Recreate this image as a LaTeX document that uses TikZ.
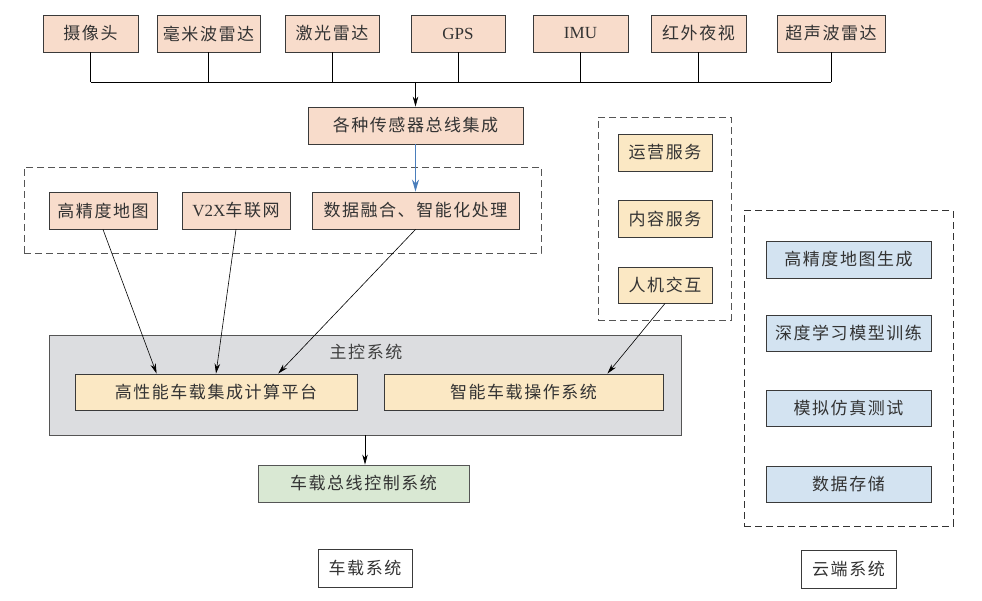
\documentclass[tikz,border=0pt]{standalone}
\usepackage{fontspec}
\setmainfont{Liberation Serif}
\newfontfamily\cjk[LetterSpace=9]{Noto Sans CJK SC}
\usepackage{xcolor}
\usepackage{tikz}
\usetikzlibrary{calc,positioning,arrows.meta}
\definecolor{sensBg}{HTML}{F8DCCB}
\definecolor{svcBg}{HTML}{FBE8C4}
\definecolor{mcuBg}{HTML}{DCDDE0}
\definecolor{busBg}{HTML}{D9E8D3}
\definecolor{cloudBg}{HTML}{D3E3F1}
\definecolor{flowBlue}{HTML}{4A7EBB}
\definecolor{edgegray}{HTML}{3A3A3A}
\definecolor{rulegray}{HTML}{555555}
\tikzset{
    box/.style={draw=edgegray, line width=0.9pt, inner sep=0pt, minimum height=37pt,
                font=\cjk\fontsize{17}{20}\selectfont, text=black!80},
    sensor/.style={box, fill=sensBg},
    service/.style={box, fill=svcBg},
    cloudbox/.style={box, fill=cloudBg, minimum width=165pt},
    group/.style={draw=rulegray, line width=0.9pt, dash pattern=on 7pt off 4pt,
                  inner sep=0pt},
    caption/.style={box, fill=white, minimum height=38pt},
    arr/.style={-{Stealth[length=10pt,width=5.5pt]}, line width=0.6pt, draw=black},
}

\begin{document}
\begin{tikzpicture}[x=1pt,y=-1pt]
\useasboundingbox (0,0) rectangle (982,601);

% ---------------- SENSORS ----------------
\node[sensor, minimum width=95pt]  (cam)   at (90.5,33.5) {摄像头};
\node[sensor, minimum width=103pt] (mmw)   at (208.5,33.5) {毫米波雷达};
\node[sensor, minimum width=94pt]  (lidar) at (332,33.5)   {激光雷达};
\node[sensor, minimum width=94pt, font=\rmfamily\fontsize{17}{20}\selectfont]  (gps) at (458,33.5) {GPS};
\node[sensor, minimum width=95pt, font=\rmfamily\fontsize{17}{20}\selectfont]  (imu) at (580.5,33.5) {IMU};
\node[sensor, minimum width=95pt]  (ir)    at (698.5,33.5) {红外夜视};
\node[sensor, minimum width=108pt] (ultra) at (831,33.5)   {超声波雷达};

\coordinate (bus) at (0,82);
\foreach \s in {cam,mmw,lidar,gps,imu,ir,ultra}
  \draw[line width=0.7pt] (\s.south) -- (\s.south |- bus);
\draw[line width=0.7pt] (cam.south |- bus) -- (ultra.south |- bus);

\node[sensor, minimum width=215pt] (sensbus) at (415.5,125.5) {各种传感器总线集成};
\draw[arr] (sensbus.north |- bus) -- (sensbus.north);

% ---------------- VEHICLE SIDE ----------------
\node[group, minimum width=517pt, minimum height=86pt] (srcgrp) at (282.5,210) {};
\node[sensor, minimum width=108pt] (hdmap)  at (103,210.5) {高精度地图};
\node[sensor, minimum width=108pt] (v2x)    at (236,210.5) {{\rmfamily V2X}车联网};
\node[sensor, minimum width=207pt] (fusion) at (415.5,210.5) {数据融合、智能化处理};
\draw[-{Stealth[length=12pt,width=7pt]}, draw=flowBlue, fill=flowBlue, line width=1.4pt]
  (sensbus.south) -- (fusion.north);

% main control
\node[box, fill=mcuBg, draw=rulegray, minimum width=632pt, minimum height=100pt] (mcu) at (365,385) {};
\node[font=\cjk\fontsize{17}{20}\selectfont, text=black!75] (mcutitle) at (366,352) {主控系统};
\node[service, minimum width=282pt, minimum height=36pt] (hpc) at (216,392)   {高性能车载集成计算平台};
\node[service, minimum width=279pt, minimum height=36pt] (os)  at (523.5,392) {智能车载操作系统};

\draw[arr] (hdmap.south)  -- ($(hpc.north west)!0.29!(hpc.north east)$);
\draw[arr] (v2x.south)    -- (hpc.north);
\draw[arr] (fusion.south) -- ($(hpc.north west)!0.72!(hpc.north east)$);

\node[box, fill=busBg, draw=rulegray, minimum width=211pt] (canbus) at (363.5,483.5) {车载总线控制系统};
\draw[arr] (mcu.south) -- (mcu.south |- canbus.north);

% ---------------- SERVICES ----------------
\node[group, minimum width=133pt, minimum height=203pt] (svcgrp) at (664.5,218.5) {};
\node[service, minimum width=94pt] (ops)     at (665,152.5) {运营服务};
\node[service, minimum width=94pt] (content) at (665,218.5) {内容服务};
\node[service, minimum width=94pt, minimum height=36pt] (hmi) at (665,285) {人机交互};
\draw[arr] (hmi.south) -- ($(os.north west)!0.80!(os.north east)$);

% ---------------- CLOUD ----------------
\node[group, draw=black!80, line width=1pt, minimum width=209pt, minimum height=315pt] (cloudgrp) at (848.5,368.5) {};
\node[cloudbox] (hdgen) at (848.5,259.5) {高精度地图生成};
\node[cloudbox, minimum height=36pt] (dltrain) at (848.5,333) {深度学习模型训练};
\node[cloudbox, minimum height=36pt] (simtest) at (848.5,408) {模拟仿真测试};
\node[cloudbox, minimum height=36pt] (store)   at (848.5,484) {数据存储};

% captions
\node[caption, minimum width=94pt] (vehcap)   at (365,568)   {车载系统};
\node[caption, minimum width=95pt] (cloudcap) at (848.5,569) {云端系统};

\end{tikzpicture}
\end{document}
